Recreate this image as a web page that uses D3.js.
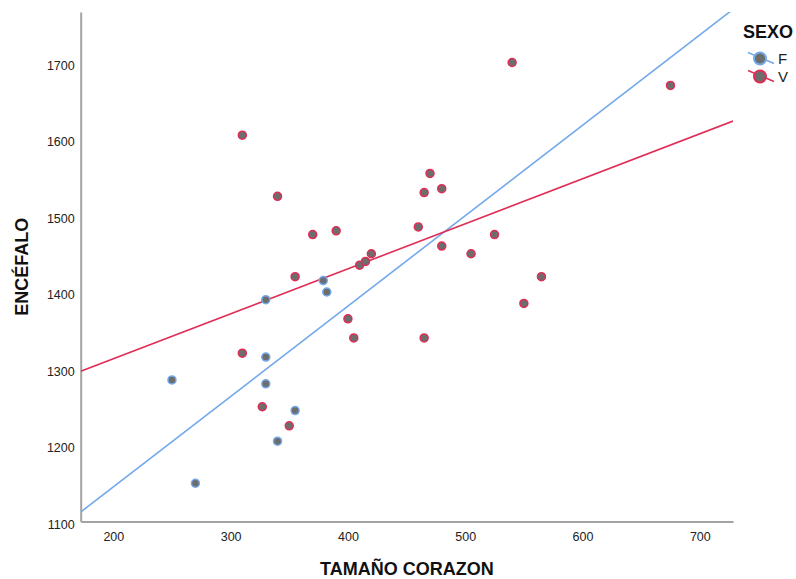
<!DOCTYPE html>
<html>
<head>
<meta charset="utf-8">
<script src="https://cdn.jsdelivr.net/npm/d3@7"></script>
<style>
  html, body { margin: 0; padding: 0; background: #fff; }
  svg { display: block; font-family: "Liberation Sans", Arial, sans-serif; }
</style>
</head>
<body>
<svg id="chart" width="796" height="579"></svg>
<script>
// Heart size (TAMAÑO CORAZON) vs brain (ENCÉFALO), by sex
const groups = ["F", "V"];
const colors = ["#72a9ea", "#e02d55"];

const fCorazon = [250, 270, 330, 330, 330, 379, 382, 355, 340];
const fEncefalo = [1285, 1150, 1390, 1315, 1280, 1415, 1400, 1245, 1205];

const vCorazon = [310, 340, 370, 390, 355, 410, 415, 420, 460, 465, 470, 480, 480,
                  505, 525, 540, 675, 565, 550, 400, 405, 465, 310, 327, 350];
const vEncefalo = [1605, 1525, 1475, 1480, 1420, 1435, 1440, 1450, 1485, 1530, 1555, 1535, 1460,
                   1450, 1475, 1700, 1670, 1420, 1385, 1365, 1340, 1340, 1320, 1250, 1225];

const xTicks = [200, 300, 400, 500, 600, 700];
const yTicks = [1100, 1200, 1300, 1400, 1500, 1600, 1700];

const series = [
  { name: groups[0], color: colors[0], x: fCorazon, y: fEncefalo },
  { name: groups[1], color: colors[1], x: vCorazon, y: vEncefalo }
];

const plot = { left: 80.7, right: 733, top: 12, bottom: 521.5 };
const x = d3.scaleLinear().domain([172.2, 728.3]).range([plot.left, plot.right]);
const y = d3.scaleLinear().domain([1100, 1766]).range([plot.bottom, plot.top]);

const svg = d3.select("#chart");

svg.append("defs").append("clipPath").attr("id", "plotClip")
  .append("rect")
  .attr("x", plot.left).attr("y", plot.top)
  .attr("width", plot.right - plot.left).attr("height", plot.bottom - plot.top);

// Axes: plain grey lines without tick marks
const xAxis = d3.axisBottom(x).tickValues(xTicks).tickFormat(d3.format("d")).tickSize(0).tickPadding(8);
const yAxis = d3.axisLeft(y).tickValues(yTicks).tickFormat(d3.format("d")).tickSize(0).tickPadding(6);

const gx = svg.append("g").attr("transform", `translate(0,${plot.bottom})`).call(xAxis);
const gy = svg.append("g").attr("transform", `translate(${plot.left},0)`).call(yAxis);

[gx, gy].forEach(g => {
  g.select(".domain").attr("stroke", "#a3a3a3").attr("stroke-width", 2);
  g.selectAll("text").attr("fill", "#222").style("font-size", "12.5px")
    .style("font-family", "'Liberation Sans', Arial, sans-serif");
});
gy.selectAll("text").attr("dy", "0.55em");
gx.selectAll("text").attr("dy", "0.9em");

// Least-squares fit for each group
function fit(xs, ys) {
  const mx = d3.mean(xs), my = d3.mean(ys);
  let sxy = 0, sxx = 0;
  xs.forEach((v, i) => { sxy += (v - mx) * (ys[i] - my); sxx += (v - mx) * (v - mx); });
  const b = sxy / sxx;
  return { a: my - b * mx, b };
}

const lines = svg.append("g").attr("clip-path", "url(#plotClip)");
const [x0, x1] = x.domain();
series.forEach(s => {
  const f = fit(s.x, s.y);
  lines.append("line")
    .attr("x1", x(x0)).attr("y1", y(f.a + f.b * x0))
    .attr("x2", x(x1)).attr("y2", y(f.a + f.b * x1))
    .attr("stroke", s.color).attr("stroke-width", 1.6);
});

// Points
const pts = svg.append("g");
series.forEach(s => {
  pts.selectAll(null)
    .data(s.x.map((v, i) => [v, s.y[i]]))
    .join("circle")
    .attr("cx", d => x(d[0]))
    .attr("cy", d => y(d[1]))
    .attr("r", 4)
    .attr("fill", "#6d6d6d")
    .attr("stroke", s.color)
    .attr("stroke-width", 1.5);
});

// Axis titles
svg.append("text")
  .attr("x", (plot.left + plot.right) / 2).attr("y", 575)
  .attr("text-anchor", "middle")
  .style("font-size", "18px").style("font-weight", "bold").attr("fill", "#111")
  .text("TAMAÑO CORAZON");

svg.append("text")
  .attr("transform", `translate(28,${(plot.top + plot.bottom) / 2}) rotate(-90)`)
  .attr("text-anchor", "middle")
  .style("font-size", "18px").style("font-weight", "bold").attr("fill", "#111")
  .text("ENCÉFALO");

// Legend
const legend = svg.append("g");
legend.append("text")
  .attr("x", 768).attr("y", 38)
  .attr("text-anchor", "middle")
  .style("font-size", "18px").style("font-weight", "bold").attr("fill", "#111")
  .text("SEXO");

series.forEach((s, i) => {
  const cy = 58.5 + i * 18;
  const item = legend.append("g");
  item.append("line")
    .attr("x1", 748).attr("y1", cy - 6)
    .attr("x2", 774).attr("y2", cy + 5)
    .attr("stroke", s.color).attr("stroke-width", 1.5);
  item.append("circle")
    .attr("cx", 760).attr("cy", cy).attr("r", 6)
    .attr("fill", "#6d6d6d").attr("stroke", s.color).attr("stroke-width", 2);
  item.append("text")
    .attr("x", 778).attr("y", cy + 5.5)
    .style("font-size", "15px").attr("fill", "#222")
    .text(s.name);
});
</script>
</body>
</html>
